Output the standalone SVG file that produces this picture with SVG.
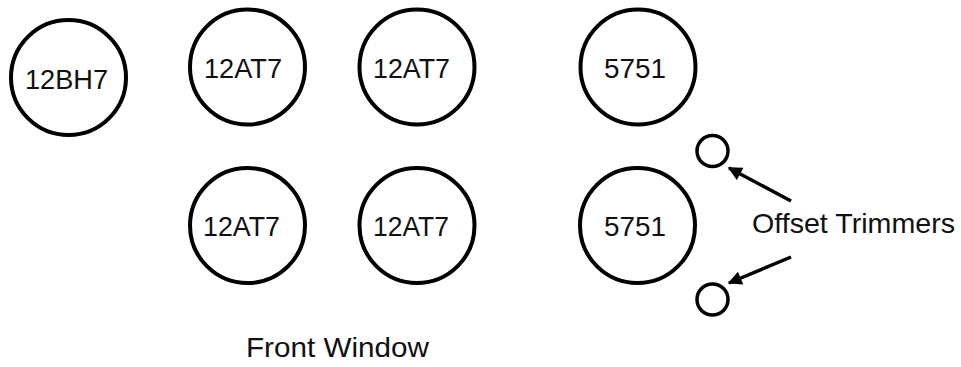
<svg xmlns="http://www.w3.org/2000/svg" width="961" height="367" viewBox="0 0 961 367">
<defs>
<style>
.tube{fill:none;stroke:#000;stroke-width:4}
.trim{fill:none;stroke:#000;stroke-width:3.5}
.lbl{font-family:"Liberation Sans",Arial,sans-serif;font-size:28px;fill:#111;text-anchor:middle}
.cap{font-family:"Liberation Sans",Arial,sans-serif;font-size:28px;fill:#111}
.conn{stroke:#000;stroke-width:3.5;fill:none}
</style>
<marker id="ah" viewBox="0 0 10 10" refX="9" refY="5" markerWidth="4.5" markerHeight="4" markerUnits="strokeWidth" orient="auto">
<path d="M0,0 L10,5 L0,10 Z" fill="#000"/>
</marker>
</defs>
<rect width="961" height="367" fill="#fff"/>
<g id="tube-12BH7"><circle class="tube" cx="68.5" cy="77.5" r="57.5"/><text class="lbl" x="66.5" y="89" textLength="83" lengthAdjust="spacingAndGlyphs">12BH7</text></g>
<g id="tube-12AT7-1"><circle class="tube" cx="247.5" cy="67" r="57.5"/><text class="lbl" x="243" y="78" textLength="78" lengthAdjust="spacingAndGlyphs">12AT7</text></g>
<g id="tube-12AT7-2"><circle class="tube" cx="417" cy="67" r="57.5"/><text class="lbl" x="411.5" y="78" textLength="77" lengthAdjust="spacingAndGlyphs">12AT7</text></g>
<g id="tube-5751-1"><circle class="tube" cx="638" cy="67" r="57.5"/><text class="lbl" x="635" y="78" textLength="62" lengthAdjust="spacingAndGlyphs">5751</text></g>
<g id="tube-12AT7-3"><circle class="tube" cx="247.5" cy="225.5" r="57.5"/><text class="lbl" x="241.5" y="236" textLength="77" lengthAdjust="spacingAndGlyphs">12AT7</text></g>
<g id="tube-12AT7-4"><circle class="tube" cx="417" cy="225.5" r="57.5"/><text class="lbl" x="411" y="236" textLength="76" lengthAdjust="spacingAndGlyphs">12AT7</text></g>
<g id="tube-5751-2"><circle class="tube" cx="637.5" cy="225.5" r="57.5"/><text class="lbl" x="635" y="236" textLength="62" lengthAdjust="spacingAndGlyphs">5751</text></g>
<g id="trimmer-1"><circle class="trim" cx="712.5" cy="151" r="15.5"/></g>
<g id="trimmer-2"><circle class="trim" cx="712.5" cy="299.5" r="15.5"/></g>
<g id="label-offset"><text class="cap" x="752" y="233" textLength="203" lengthAdjust="spacingAndGlyphs">Offset Trimmers</text></g>
<g id="label-front"><text class="cap" x="246" y="357" textLength="183" lengthAdjust="spacingAndGlyphs">Front Window</text></g>
<g id="connectors">
<line class="conn" x1="791" y1="201" x2="729" y2="168" marker-end="url(#ah)"/>
<line class="conn" x1="791" y1="257" x2="729" y2="283" marker-end="url(#ah)"/>
</g>
</svg>
